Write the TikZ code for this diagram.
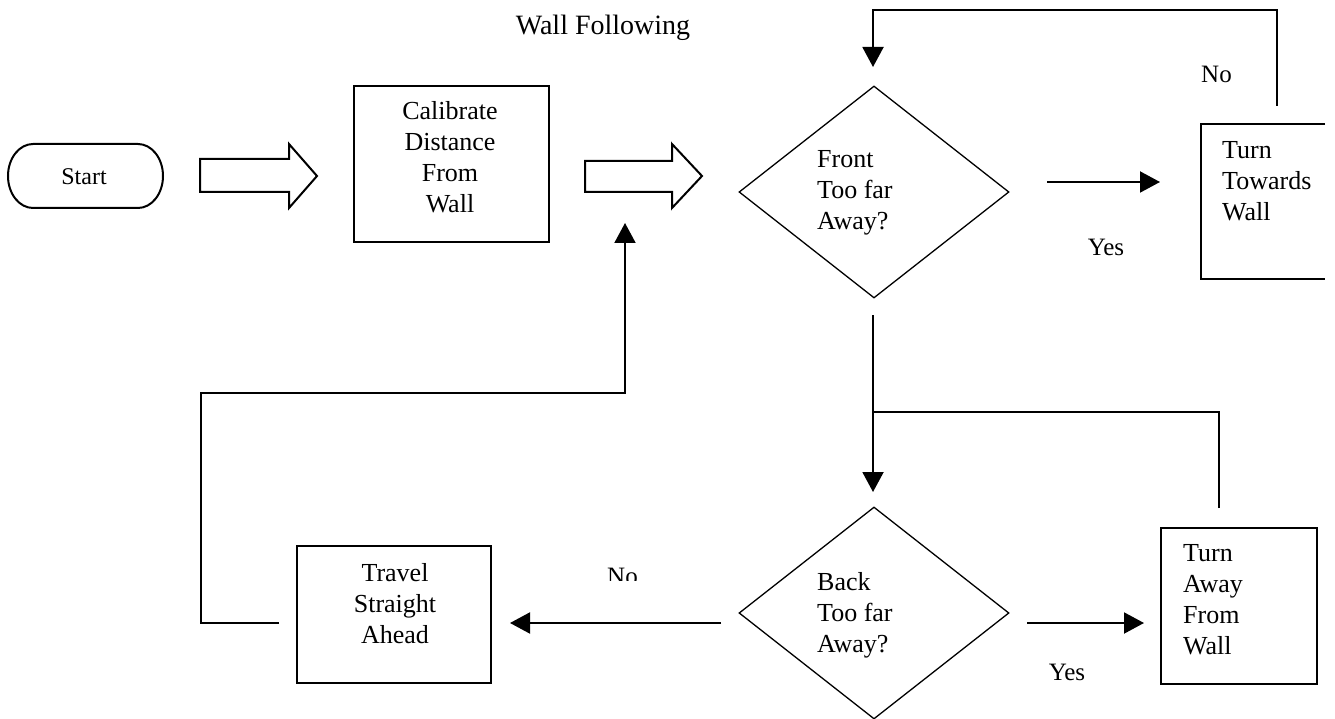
\documentclass[tikz,border=0pt]{standalone}
\usepackage{fontspec}
\setmainfont{Liberation Serif}
\usetikzlibrary{arrows.meta,shapes.geometric}
\begin{document}
\begin{tikzpicture}[x=1pt,y=-1pt,
  boxline/.style={line width=2pt},
  flowbox/.style={draw,line width=2pt,rectangle,inner sep=0pt},
  decision/.style={draw,line width=1.3pt,diamond,inner sep=0pt,minimum width=270pt,minimum height=212pt},
  flowtext/.style={inner sep=0pt,font=\fontsize{26}{31}\selectfont},
  lbl/.style={inner sep=0pt,anchor=base,font=\fontsize{25}{30}\selectfont},
  conn/.style={line width=2pt},
  arr/.style={conn,-{Triangle[length=20pt,width=21pt]}},
  blockarrow/.style={draw,line width=2pt,line join=miter}
]
\useasboundingbox (0,0) rectangle (1335,719);

% title
\node[inner sep=0pt,anchor=base,font=\fontsize{28}{32}\selectfont] (title) at (603,35) {Wall Following};

% start terminal
\draw[boxline] (33,144) -- (138,144) arc[start angle=-90,end angle=90,x radius=25,y radius=32]
  -- (33,208) arc[start angle=90,end angle=270,x radius=25,y radius=32] -- cycle;
\node[inner sep=0pt,anchor=base,font=\fontsize{24}{28}\selectfont] (start) at (84,185) {Start};

% block arrows
\path[blockarrow] (200,159) -- (289,159) -- (289,144) -- (317,176) -- (289,208) -- (289,192) -- (200,192) -- cycle;
\path[blockarrow] (585,161) -- (672,161) -- (672,144) -- (702,176) -- (672,208) -- (672,192) -- (585,192) -- cycle;

% calibrate
\node[flowbox,minimum width=195pt,minimum height=156pt] (cal) at (451.5,164) {};
\node[flowtext,align=center] (caltext) at (450,157.6) {Calibrate\\Distance\\From\\Wall};

% front decision
\node[decision] (front) at (874,192) {};
\node[flowtext,align=left,anchor=west] (fronttext) at (817,193.2) {Front\\Too far\\Away?};

% turn towards wall (open on the right)
\node[inner sep=0pt,minimum width=124pt,minimum height=155pt] (towards) at (1263,201.5) {};
\draw[boxline] (towards.north east) -- (towards.north west) -- (towards.south west) -- (towards.south east);
\node[flowtext,align=left,anchor=west] (towardstext) at (1222,181.4) {Turn\\Towards\\Wall};

% back decision
\node[decision] (back) at (874,613) {};
\node[flowtext,align=left,anchor=west] (backtext) at (817,615) {Back\\Too far\\Away?};

% turn away
\node[flowbox,minimum width=156pt,minimum height=156pt] (away) at (1239,606) {};
\node[flowtext,align=left,anchor=west] (awaytext) at (1183,599.9) {Turn\\Away\\From\\Wall};

% travel
\node[flowbox,minimum width=194pt,minimum height=137pt] (travel) at (394,614.5) {};
\node[flowtext,align=center] (traveltext) at (395,603.6) {Travel\\Straight\\Ahead};

% free connector ends
\coordinate (fy1) at (1047,182);
\coordinate (fy2) at (1160,182);
\coordinate (tl1) at (1277,106);
\coordinate (tl2) at (873,67);
\coordinate (dn1) at (873,315);
\coordinate (dn2) at (873,492);
\coordinate (br1) at (1219,508);
\coordinate (br2) at (873,412);
\coordinate (by1) at (1027,623);
\coordinate (by2) at (1144,623);
\coordinate (bn1) at (721,623);
\coordinate (bn2) at (510,623);
\coordinate (lp1) at (279,623);
\coordinate (lp2) at (625,223);

% connectors
\draw[arr] (fy1) -- (fy2);
\draw[arr] (tl1) -- (1277,10) -- (873,10) -- (tl2);
\draw[arr] (dn1) -- (dn2);
\draw[conn] (br1) -- (1219,412) -- (br2);
\draw[arr] (by1) -- (by2);
\draw[arr] (bn1) -- (bn2);
\draw[arr] (lp1) -- (201,623) -- (201,393) -- (625,393) -- (lp2);

% labels
\node[lbl] (yes1) at (1106,256) {Yes};
\node[lbl] (no1) at (1216.5,83) {No};
\node[lbl] (yes2) at (1067,680) {Yes};
\begin{scope}
  \clip (590,550) rectangle (660,580);
  \node[lbl] (no2) at (622.5,584) {No};
\end{scope}
\end{tikzpicture}
\end{document}
